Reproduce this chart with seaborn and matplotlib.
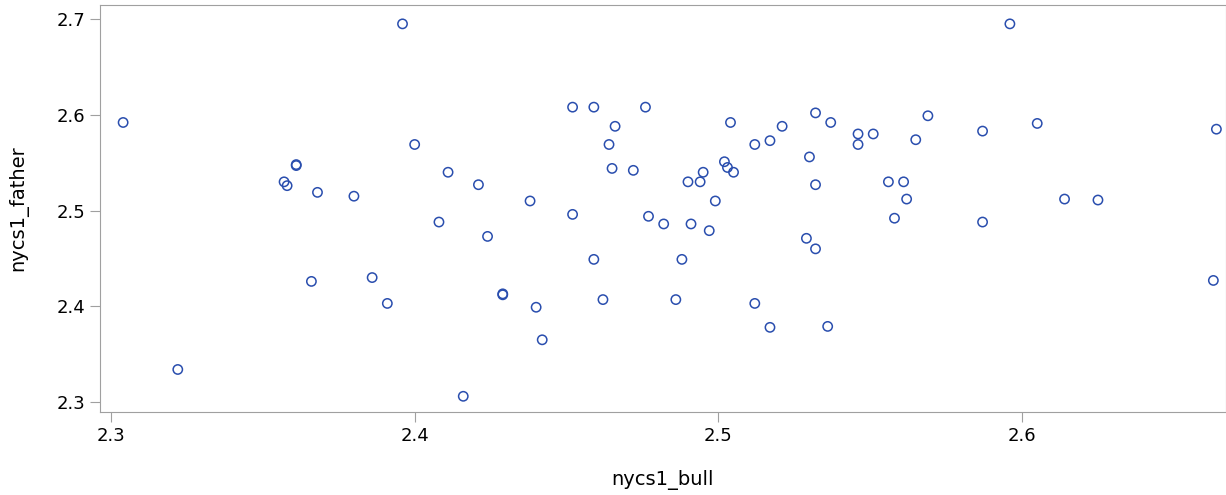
import seaborn as sns
import matplotlib.pyplot as plt
import pandas as pd

bull = [2.304, 2.322, 2.357, 2.358, 2.361, 2.361, 2.366, 2.368, 2.380, 2.386,
        2.391, 2.396, 2.400, 2.411, 2.421, 2.408, 2.424, 2.429, 2.429, 2.416,
        2.452, 2.459, 2.476, 2.466, 2.464, 2.465, 2.472, 2.438, 2.452, 2.477,
        2.482, 2.491, 2.497, 2.459, 2.488, 2.440, 2.442, 2.462, 2.486, 2.512,
        2.517, 2.536, 2.490, 2.494, 2.495, 2.499, 2.502, 2.503, 2.505, 2.504,
        2.512, 2.517, 2.521, 2.532, 2.537, 2.530, 2.532, 2.529, 2.532, 2.546,
        2.546, 2.551, 2.556, 2.558, 2.561, 2.562, 2.565, 2.569, 2.587, 2.587,
        2.596, 2.605, 2.614, 2.625, 2.663, 2.664]
father = [2.592, 2.334, 2.530, 2.526, 2.547, 2.548, 2.426, 2.519, 2.515, 2.430,
          2.403, 2.695, 2.569, 2.540, 2.527, 2.488, 2.473, 2.413, 2.412, 2.306,
          2.608, 2.608, 2.608, 2.588, 2.569, 2.544, 2.542, 2.510, 2.496, 2.494,
          2.486, 2.486, 2.479, 2.449, 2.449, 2.399, 2.365, 2.407, 2.407, 2.403,
          2.378, 2.379, 2.530, 2.530, 2.540, 2.510, 2.551, 2.545, 2.540, 2.592,
          2.569, 2.573, 2.588, 2.602, 2.592, 2.556, 2.527, 2.471, 2.460, 2.580,
          2.569, 2.580, 2.530, 2.492, 2.530, 2.512, 2.574, 2.599, 2.583, 2.488,
          2.695, 2.591, 2.512, 2.511, 2.427, 2.585]

df = pd.DataFrame({'nycs1_bull': bull, 'nycs1_father': father})

sns.set_style('white')
plt.rcParams['font.family'] = ['DejaVu Sans']

fig = plt.figure(figsize=(12.26, 4.95), dpi=100)
ax = fig.add_axes([0.0816, 0.1677, 0.918, 0.822])
sns.scatterplot(data=df, x='nycs1_bull', y='nycs1_father', ax=ax,
                marker='o', s=45, facecolor='none', edgecolor='#2a4eae', linewidth=1.1)

ax.set_xlim(2.2964, 2.667)
ax.set_ylim(2.2896, 2.7146)
ax.set_xticks([2.3, 2.4, 2.5, 2.6])
ax.set_yticks([2.3, 2.4, 2.5, 2.6, 2.7])
ax.set_xticklabels(['2.3', '2.4', '2.5', '2.6'])
ax.set_yticklabels(['2.3', '2.4', '2.5', '2.6', '2.7'])
for sp in ax.spines.values():
    sp.set_color('#a0a0a0')
ax.tick_params(direction='out', length=7, color='#a0a0a0', labelsize=13,
               labelcolor='black', left=True, bottom=True)
ax.set_xlabel('nycs1_bull', fontsize=14, labelpad=18, color='black')
ax.set_ylabel('nycs1_father', fontsize=14, color='black')
ax.yaxis.set_label_coords(-0.064, 0.5)

fig.savefig('out.png', dpi=100)
